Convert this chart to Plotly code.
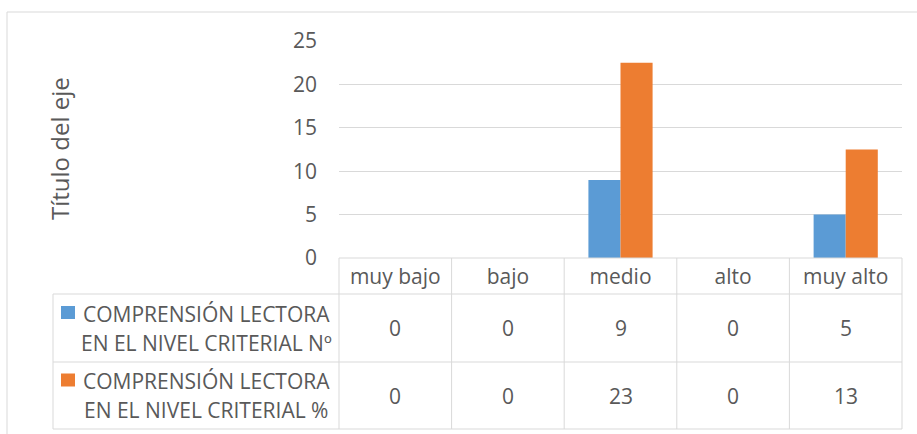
import plotly.graph_objects as go

# ---------------- data ----------------
categories = ["muy bajo", "bajo", "medio", "alto", "muy alto"]
series_names = [
    "COMPRENSIÓN LECTORA EN EL NIVEL CRITERIAL Nº",
    "COMPRENSIÓN LECTORA EN EL NIVEL CRITERIAL %",
]
legend_lines = [
    ["COMPRENSIÓN LECTORA", "EN EL NIVEL CRITERIAL Nº"],
    ["COMPRENSIÓN LECTORA", "EN EL NIVEL CRITERIAL %"],
]
values_n = [0, 0, 9, 0, 5]
values_pct = [0, 0, 22.5, 0, 12.5]
y_ticks = [0, 5, 10, 15, 20, 25]
axis_title = "Título del eje"

# ---------------- style ----------------
colors = ["#5B9BD5", "#ED7D31"]
text_color = "#595959"
grid_color = "#D9D9D9"
border_color = "#D9D9D9"
FONT = "Open Sans"
FS = 21
FS_TITLE = 24

W, H = 917, 434
L, R, T, B = 339, 15, 41, 176
pw = W - L - R
ph = H - T - B
x_range = [-0.5, len(categories) - 0.5]


def px(x):
    return (x - L) / pw


def py(y):
    return (T + ph - y) / ph


fig = go.Figure()
for name, vals, col in zip(series_names, [values_n, values_pct], colors):
    fig.add_trace(go.Bar(x=categories, y=vals, name=name, marker=dict(color=col, line=dict(width=0))))

shapes = []
annotations = []


def hline(y, x0, x1, color=border_color):
    shapes.append(dict(type="line", xref="paper", yref="paper", x0=px(x0), x1=px(x1), y0=py(y), y1=py(y),
                       line=dict(color=color, width=1)))


def vline(x, y0, y1, color=border_color):
    shapes.append(dict(type="line", xref="paper", yref="paper", x0=px(x), x1=px(x), y0=py(y0), y1=py(y1),
                       line=dict(color=color, width=1)))


# outer chart border
hline(12, 7, 917)
vline(7, 12, 434)

# table grid
row_y = [258, 294, 362, 429]
right_px = L + pw
left_tab = 53
hline(row_y[0], L, right_px)
for y in row_y[1:]:
    hline(y, left_tab, right_px)
vline(left_tab, row_y[1], row_y[3])
n = len(categories)
for i in range(n + 1):
    xb = L + pw * i / n
    vline(xb, row_y[0], row_y[3])

# legend keys + names
row_centers = [(row_y[1] + row_y[2]) / 2, (row_y[2] + row_y[3]) / 2]
for k, (lines, col) in enumerate(zip(legend_lines, colors)):
    yc = row_centers[k]
    shapes.append(dict(type="rect", xref="paper", yref="paper", x0=px(61), x1=px(75),
                       y0=py(yc - 22), y1=py(yc - 9), fillcolor=col, line=dict(width=0)))
    for j, t in enumerate(lines):
        annotations.append(dict(text=t, xref="paper", yref="paper", x=px(206), y=py(yc - 14.5 + 29 * j),
                                showarrow=False, xanchor="center", yanchor="middle",
                                font=dict(family=FONT, size=FS, color=text_color)))

# table values
for k, vals in enumerate([values_n, values_pct]):
    for c, v in zip(categories, vals):
        annotations.append(dict(text=str(int(v + 0.5)), xref="x", yref="paper", x=c, y=py(row_centers[k]),
                                showarrow=False, xanchor="center", yanchor="middle",
                                font=dict(family=FONT, size=FS, color=text_color)))

# axis title
annotations.append(dict(text=axis_title, xref="paper", yref="paper", x=px(59), y=py(149), textangle=-90,
                        showarrow=False, xanchor="center", yanchor="middle",
                        font=dict(family=FONT, size=FS_TITLE, color=text_color)))

fig.update_layout(
    width=W, height=H,
    margin=dict(l=L, r=R, t=T, b=B, autoexpand=False),
    paper_bgcolor="white", plot_bgcolor="white",
    barmode="group", bargap=0.43, bargroupgap=0,
    showlegend=False,
    font=dict(family=FONT, size=FS, color=text_color),
    shapes=shapes, annotations=annotations,
    xaxis=dict(range=x_range, showgrid=False, zeroline=False, showline=False, ticks="",
               tickfont=dict(family=FONT, size=FS, color=text_color), ticklabelstandoff=4),
    yaxis=dict(range=[0, 25], tickvals=y_ticks, showgrid=True, gridcolor=grid_color, gridwidth=1,
               zeroline=False, showline=False, ticks="", ticklabelstandoff=21,
               tickfont=dict(family=FONT, size=FS, color=text_color)),
)

fig.write_html("out.html", config={"displayModeBar": False},
               post_script="document.body.style.margin='0';")
